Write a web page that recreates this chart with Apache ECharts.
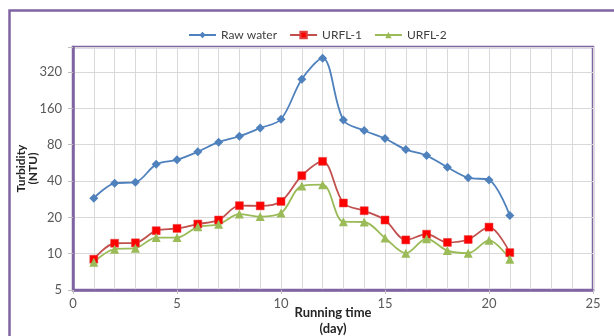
<!DOCTYPE html>
<html>
<head>
<meta charset="utf-8">
<script src="https://cdn.jsdelivr.net/npm/echarts@6/dist/echarts.min.js"></script>
<style>
  html, body { margin: 0; padding: 0; background: #fff; }
  #chart { width: 614px; height: 336px; }
</style>
</head>
<body>
<div id="chart"></div>
<script>
// 运行天数
var days = [1, 2, 3, 4, 5, 6, 7, 8, 9, 10, 11, 12, 13, 14, 15, 16, 17, 18, 19, 20, 21];
// 浊度 (NTU)
var rawWater = [28.8, 38.3, 39.1, 55, 60, 70, 84, 94, 110, 130, 279, 417, 128, 105, 90, 73, 65, 52, 42.6, 40.8, 20.7];
var urfl1 = [9.0, 12.2, 12.3, 15.5, 16.2, 17.6, 19.0, 25.0, 24.9, 27.1, 44.3, 58.2, 26.3, 22.7, 19.0, 13.0, 14.5, 12.4, 13.1, 16.6, 10.2];
var urfl2 = [8.5, 10.9, 11.1, 13.6, 13.6, 16.7, 17.5, 21.3, 20.3, 21.7, 36.4, 37.3, 18.4, 18.3, 13.5, 10.1, 13.3, 10.6, 10.1, 12.9, 9.0];
var yTicks = [5, 10, 20, 40, 80, 160, 320];

var purple = '#8064a2';
var baseY = yTicks[0];

// y 轴按 2 倍刻度 (5,10,20...)
function toLog(v) { return Math.log2(v / baseY); }
function pairs(arr) {
  return days.map(function (d, i) { return [d, toLog(arr[i])]; });
}

var chart = echarts.init(document.getElementById('chart'));
var option = {
  animation: false,
  textStyle: { fontFamily: 'Lato' },
  graphic: [{
    type: 'rect',
    shape: { x: 9.5, y: 10.5, width: 700, height: 400 },
    style: { fill: 'none', stroke: purple, lineWidth: 2.5 }
  }],
  legend: {
    left: 183,
    top: 24,
    itemWidth: 27,
    itemHeight: 8,
    itemGap: 12,
    textStyle: { fontSize: 12, color: '#404040', fontFamily: 'Lato' },
    data: ['Raw water', 'URFL-1', 'URFL-2']
  },
  grid: {
    left: 73, right: 21, top: 47, bottom: 46,
    outerBoundsMode: 'none',
    show: true, borderColor: purple, borderWidth: 2.5, containLabel: false
  },
  xAxis: {
    type: 'value',
    min: 0, max: 25, interval: 5,
    name: 'Running time\n(day)',
    nameLocation: 'middle',
    nameMoveOverlap: false,
    nameGap: 15,
    nameTextStyle: { fontSize: 13, fontWeight: 'bold', color: '#262626', lineHeight: 16, fontFamily: 'Lato' },
    axisLine: { lineStyle: { color: purple, width: 2.5 } },
    axisTick: { show: true, length: 4, lineStyle: { color: '#bfbfbf' } },
    axisLabel: { fontSize: 13, color: '#595959', margin: 7 },
    splitLine: { show: true, lineStyle: { color: '#d9d9d9' } },
    minorTick: { show: false, splitNumber: 5 },
    minorSplitLine: { show: true, lineStyle: { color: '#d9d9d9' } }
  },
  yAxis: {
    type: 'value',
    min: 0, max: 6.69, interval: 1,
    name: 'Turbidity\n(NTU)',
    nameLocation: 'middle',
    nameMoveOverlap: false,
    nameRotate: 90,
    nameGap: 34,
    nameTextStyle: { fontSize: 12, fontWeight: 'bold', color: '#262626', lineHeight: 12, fontFamily: 'Lato' },
    axisLine: { show: true, lineStyle: { color: purple, width: 2.5 } },
    axisTick: { show: true, length: 5, lineStyle: { color: '#bfbfbf' } },
    axisLabel: {
      fontSize: 13, color: '#595959', margin: 11,
      formatter: function (v) {
        var i = Math.round(v);
        return Math.abs(v - i) < 1e-6 && i < yTicks.length ? String(yTicks[i]) : '';
      }
    },
    splitLine: { show: true, lineStyle: { color: '#d9d9d9' } }
  },
  series: [{
    name: 'Raw water',
    type: 'line',
    smooth: 0.33,
    symbol: 'diamond',
    symbolSize: 9,
    lineStyle: { color: '#4f81bd', width: 1.8 },
    itemStyle: { color: '#4f81bd' },
    data: pairs(rawWater)
  }, {
    name: 'URFL-1',
    type: 'line',
    smooth: 0.33,
    symbol: 'rect',
    symbolSize: 8,
    lineStyle: { color: '#c0504d', width: 1.8 },
    itemStyle: { color: '#ff0000', borderColor: '#e04040', borderWidth: 0.5 },
    data: pairs(urfl1)
  }, {
    name: 'URFL-2',
    type: 'line',
    smooth: 0.33,
    symbol: 'triangle',
    symbolSize: 9,
    lineStyle: { color: '#9bbb59', width: 1.8 },
    itemStyle: { color: '#9bbb59' },
    data: pairs(urfl2)
  }]
};
chart.setOption(option);
</script>
</body>
</html>
